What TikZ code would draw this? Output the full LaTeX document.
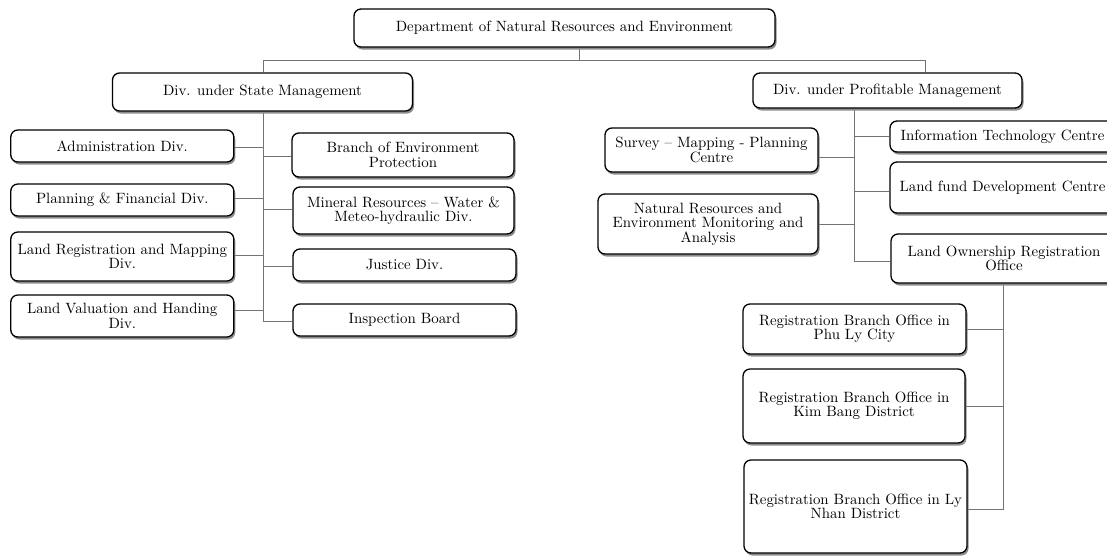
\documentclass[tikz,border=0pt]{standalone}
\usepackage{fontspec}
\setmainfont{lmroman10-regular.otf}
\usetikzlibrary{shadows,backgrounds}
\begin{document}
\tikzset{
  box/.style={draw=black, line width=1.3pt, rounded corners=7pt, fill=white,
    align=center, inner sep=0pt,
    font=\fontsize{14.9}{14.5}\selectfont,
    drop shadow={shadow xshift=1.5pt, shadow yshift=-2.5pt, fill=black!45, opacity=1}},
  link/.style={draw=black!55, line width=0.9pt}
}
\begin{tikzpicture}[x=1pt,y=-1pt]
\useasboundingbox (0,0) rectangle (1107,555);

% top
\node[box, minimum width=421pt, minimum height=38pt] (dept) at (564.5,28) {Department of Natural Resources and Environment};
\node[box, minimum width=300pt, minimum height=38pt] (state) at (262.5,92) {Div. under State Management};
\node[box, minimum width=269pt, minimum height=35pt] (prof) at (887.5,90.5) {Div. under Profitable Management};

% left group, left column
\node[box, minimum width=223pt, minimum height=32pt] (admin) at (122.3,146) {Administration Div.};
\node[box, minimum width=223pt, minimum height=32pt] (plan) at (122.3,200) {Planning \& Financial Div.};
\node[box, minimum width=223pt, minimum height=49pt] (landreg) at (122.3,256.5) {Land Registration and Mapping\\Div.};
\node[box, minimum width=223pt, minimum height=42pt] (landval) at (122.3,316) {Land Valuation and Handing\\Div.};

% left group, right column
\node[box, minimum width=222pt, minimum height=44pt] (branch) at (403,155) {Branch of Environment\\Protection};
\node[box, minimum width=221pt, minimum height=47pt] (mineral) at (403.5,210.5) {Mineral Resources -- Water \&\\Meteo-hydraulic Div.};
\node[box, minimum width=223pt, minimum height=32pt] (justice) at (404.5,265) {Justice Div.};
\node[box, minimum width=223pt, minimum height=32pt] (inspect) at (404.5,320) {Inspection Board};

% right group
\node[box, minimum width=213pt, minimum height=44pt] (survey) at (711.5,150) {Survey -- Mapping - Planning\\Centre};
\node[box, minimum width=220pt, minimum height=60pt] (nrmon) at (708,224) {Natural Resources and\\Environment Monitoring and\\Analysis};
\node[box, minimum width=225pt, minimum height=31pt] (it) at (1002.5,136.5) {Information Technology Centre};
\node[box, minimum width=225pt, minimum height=51pt] (landfund) at (1002.5,187.5) {Land fund Development Centre};
\node[box, minimum width=226pt, minimum height=49pt] (landown) at (1004,258.5) {Land Ownership Registration\\Office};

% registration branches
\node[box, minimum width=223pt, minimum height=50pt] (phuly) at (854.5,329) {Registration Branch Office in\\Phu Ly City};
\node[box, minimum width=222pt, minimum height=74pt] (kimbang) at (854,406) {Registration Branch Office in\\Kim Bang District};
\node[box, minimum width=223pt, minimum height=93pt] (lynhan) at (855.5,506.5) {Registration Branch Office in Ly\\Nhan District};

\begin{scope}[on background layer]
  % top level
  \coordinate (top) at (579,60);
  \coordinate (hl) at (263,60);
  \coordinate (hr) at (925,60);
  \draw[link] (dept.south -| top) -- (top);
  \draw[link] (hl) -- (hr);
  \draw[link] (hl) -- (state.north -| hl);
  \draw[link] (hr) -- (prof.north -| hr);

  % left spine
  \coordinate (ls) at (263,321);
  \draw[link] (state.south -| ls) -- (ls) -- (inspect.west |- ls);
  \coordinate (a1) at (263,147); \draw[link] (admin.east |- a1) -- (a1);
  \coordinate (a2) at (263,156); \draw[link] (a2) -- (branch.west |- a2);
  \coordinate (a3) at (263,198); \draw[link] (plan.east |- a3) -- (a3);
  \coordinate (a4) at (263,209); \draw[link] (a4) -- (mineral.west |- a4);
  \coordinate (a5) at (263,255); \draw[link] (landreg.east |- a5) -- (a5);
  \coordinate (a6) at (263,266); \draw[link] (a6) -- (justice.west |- a6);
  \coordinate (a7) at (263,310); \draw[link] (landval.east |- a7) -- (a7);

  % right spine
  \coordinate (rs) at (854,261);
  \draw[link] (prof.south -| rs) -- (rs) -- (landown.west |- rs);
  \coordinate (r1) at (854,136); \draw[link] (r1) -- (it.west |- r1);
  \coordinate (r2) at (854,157); \draw[link] (survey.east |- r2) -- (r2);
  \coordinate (r3) at (854,191); \draw[link] (r3) -- (landfund.west |- r3);
  \coordinate (r4) at (854,224); \draw[link] (nrmon.east |- r4) -- (r4);

  % branch offices spine
  \coordinate (bs) at (1003,509);
  \draw[link] (landown.south -| bs) -- (bs) -- (lynhan.east |- bs);
  \coordinate (b1) at (1003,329); \draw[link] (phuly.east |- b1) -- (b1);
  \coordinate (b2) at (1003,406); \draw[link] (kimbang.east |- b2) -- (b2);
\end{scope}
\end{tikzpicture}
\end{document}
